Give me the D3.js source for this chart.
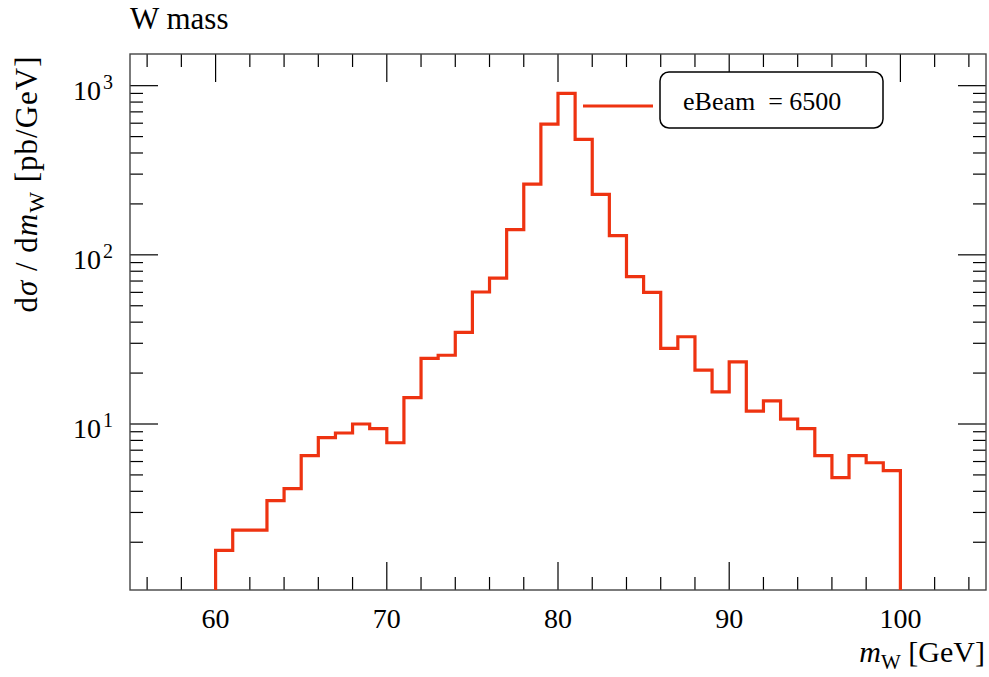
<!DOCTYPE html>
<html>
<head>
<meta charset="utf-8">
<script src="https://cdn.jsdelivr.net/npm/d3@7"></script>
<style>
    body { margin: 0; background: white; }
    svg { display: block; }
    text { font-family: "Liberation Serif", "DejaVu Serif", serif; fill: black; }
</style>
</head>
<body>
<svg id="chart" width="989" height="677"></svg>
<script>
// bin edges of the W mass histogram (GeV)
const binEdges = [60, 61, 62, 63, 64, 65, 66, 67, 68, 69, 70, 71, 72, 73, 74, 75, 76, 77, 78, 79,
                  80, 81, 82, 83, 84, 85, 86, 87, 88, 89, 90, 91, 92, 93, 94, 95, 96, 97, 98, 99, 100];
// dsigma/dmW per bin (pb/GeV)
const binValues = [1.79, 2.36, 2.36, 3.52, 4.15, 6.5, 8.3, 8.85, 10.0, 9.4,
                   7.75, 14.3, 24.4, 25.5, 34.8, 60.3, 72.9, 141, 262, 593,
                   900, 482, 228, 130, 74.3, 60, 28, 32.8, 20.8, 15.5,
                   23.3, 11.9, 13.7, 10.7, 9.4, 6.5, 4.82, 6.5, 5.9, 5.3];
const xMajorTicks = [60, 70, 80, 90, 100];
const yMajorTicks = [10, 100, 1000];
const yTickExp = ["1", "2", "3"];
const legendLabel = "eBeam  = 6500";
const title = "W mass";

const lineColor = "#ee3311";
const margin = {top: 54, right: 3, bottom: 87, left: 130};

const svg = d3.select("#chart");
const width = +svg.attr("width") - margin.left - margin.right;
const height = +svg.attr("height") - margin.top - margin.bottom;

const x = d3.scaleLinear().domain([55, 105]).range([0, width]);
const y = d3.scaleLog().domain([1.044, 1539]).range([height, 0]);

const g = svg.append("g").attr("transform", `translate(${margin.left},${margin.top})`);

svg.append("defs").append("clipPath").attr("id", "plotClip")
    .append("rect").attr("width", width).attr("height", height);

// title
svg.append("text")
    .attr("x", margin.left).attr("y", 29)
    .attr("font-size", 31)
    .text(title);

// --- ticks (drawn inward on all four sides)
let xMinor = d3.range(56, 105, 2).filter(v => !xMajorTicks.includes(v));
let yMinor = [];
[1, 10, 100, 1000].forEach(d => {
    for (let k = 2; k <= 9; k++) {
        let v = d * k;
        if (v >= y.domain()[0] && v <= y.domain()[1]) yMinor.push(v);
    }
});

let tickG = g.append("g").attr("stroke", "black").attr("stroke-width", 1.2);
let xTicks = xMinor.map(v => ({v, len: 13})).concat(xMajorTicks.map(v => ({v, len: 28})));
xTicks.forEach(t => {
    tickG.append("line").attr("x1", x(t.v)).attr("x2", x(t.v)).attr("y1", height).attr("y2", height - t.len);
    tickG.append("line").attr("x1", x(t.v)).attr("x2", x(t.v)).attr("y1", 0).attr("y2", t.len);
});
let yTicks = yMinor.map(v => ({v, len: 13})).concat(yMajorTicks.map(v => ({v, len: 28})));
yTicks.forEach(t => {
    tickG.append("line").attr("y1", y(t.v)).attr("y2", y(t.v)).attr("x1", 0).attr("x2", t.len);
    tickG.append("line").attr("y1", y(t.v)).attr("y2", y(t.v)).attr("x1", width).attr("x2", width - t.len);
});

// frame
g.append("rect")
    .attr("width", width).attr("height", height)
    .attr("fill", "none").attr("stroke", "#444").attr("stroke-width", 1.4);

// x tick labels
g.selectAll(".xlab")
    .data(xMajorTicks)
    .join("text")
    .attr("class", "xlab")
    .attr("x", d => x(d))
    .attr("y", height + 38)
    .attr("text-anchor", "middle")
    .attr("font-size", 28)
    .text(d => d);

// y tick labels: 10 with superscript exponent
yMajorTicks.forEach((v, i) => {
    g.append("text")
        .attr("x", -29).attr("y", y(v) + 14)
        .attr("text-anchor", "end")
        .attr("font-size", 28)
        .text("10");
    g.append("text")
        .attr("x", -27).attr("y", y(v) + 3)
        .attr("font-size", 20)
        .text(yTickExp[i]);
});

// histogram outline
let pathData = [[binEdges[0], null]];
binValues.forEach((v, i) => {
    pathData.push([binEdges[i], v]);
    pathData.push([binEdges[i + 1], v]);
});
pathData.push([binEdges[binEdges.length - 1], null]);

let line = d3.line()
    .x(d => x(d[0]))
    .y(d => d[1] === null ? height + 5 : y(d[1]));

g.append("path")
    .datum(pathData)
    .attr("clip-path", "url(#plotClip)")
    .attr("d", line)
    .attr("fill", "none")
    .attr("stroke", lineColor)
    .attr("stroke-width", 3.2)
    .attr("stroke-linejoin", "miter");

// legend
let leg = svg.append("g");
leg.append("line")
    .attr("x1", 583).attr("x2", 653).attr("y1", 106).attr("y2", 106)
    .attr("stroke", lineColor).attr("stroke-width", 3.2);
leg.append("rect")
    .attr("x", 660).attr("y", 72).attr("width", 223).attr("height", 56)
    .attr("rx", 9).attr("fill", "white").attr("stroke", "black").attr("stroke-width", 1.5);
leg.append("text")
    .attr("x", 683).attr("y", 110)
    .attr("font-size", 26)
    .style("white-space", "pre")
    .text(legendLabel);

// x axis label: m_W [GeV]
let xl = svg.append("text")
    .attr("x", 985).attr("y", 662)
    .attr("text-anchor", "end")
    .attr("font-size", 30);
xl.append("tspan").attr("font-style", "italic").text("m");
xl.append("tspan").attr("font-size", 21).attr("dy", 7).text("W");
xl.append("tspan").attr("dy", -7).style("white-space", "pre").text(" [GeV]");

// y axis label: dsigma / dm_W [pb/GeV]
let yl = svg.append("text")
    .attr("transform", "translate(37,184) rotate(-90)")
    .attr("text-anchor", "middle")
    .attr("font-size", 31)
    .attr("letter-spacing", 1)
    .style("white-space", "pre");
yl.append("tspan").text("d");
yl.append("tspan").attr("font-style", "italic").text("σ");
yl.append("tspan").text(" / d");
yl.append("tspan").attr("font-style", "italic").text("m");
yl.append("tspan").attr("font-size", 22).attr("dy", 7).text("W");
yl.append("tspan").attr("dy", -7).text(" [pb/GeV]");
</script>
</body>
</html>
